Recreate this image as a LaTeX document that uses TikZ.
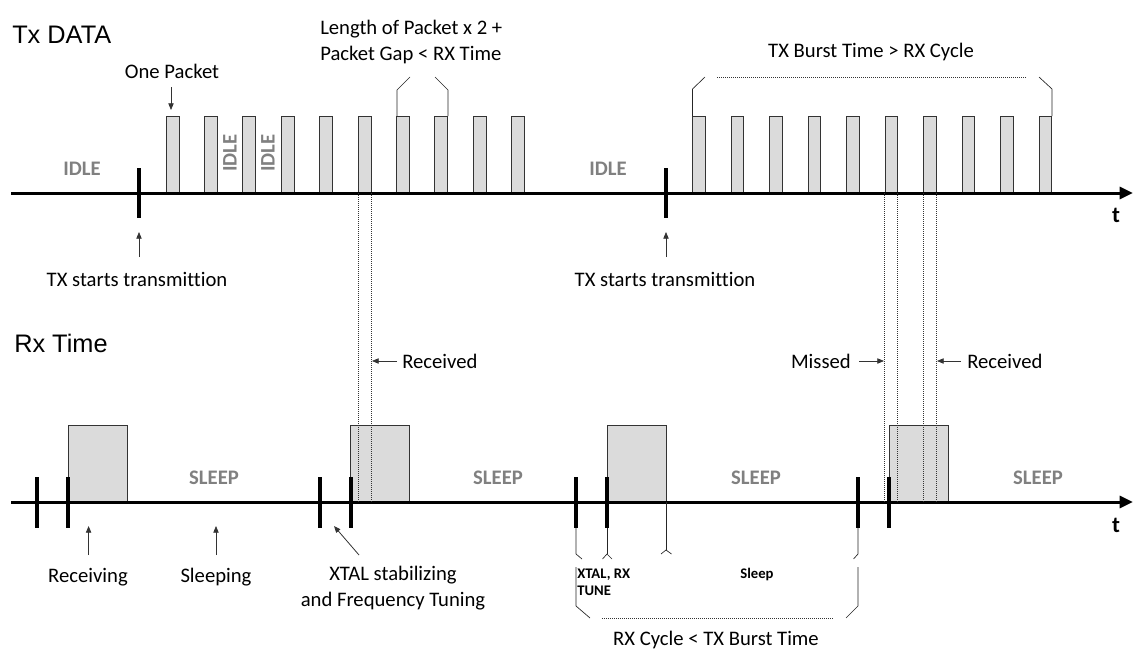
\documentclass[tikz,border=0pt]{standalone}
\usepackage{fontspec}
\setmainfont{Carlito}[Ligatures=NoCommon]
\newfontfamily\arialfont{Liberation Sans}
\usepackage{tikz}
\usetikzlibrary{arrows.meta}
\usepackage{tkz-euclide}

\tikzset{
    lbl/.style={font=\fontsize{15.5}{19.5}\selectfont, inner sep=0pt},
    title/.style={font=\arialfont\fontsize{19}{22}\selectfont, inner sep=0pt, anchor=west},
    state/.style={font=\fontsize{15.5}{19}\selectfont\bfseries, text=black!50, inner sep=0pt},
    small/.style={font=\fontsize{11}{12.75}\selectfont\bfseries, inner sep=0pt},
    axis/.style={line width=2.25pt, -{Triangle[length=10pt,width=9pt]}},
    tickmark/.style={line width=3pt},
    pkt/.style={fill=black!14, draw=black!80, line width=0.6pt},
    ptr/.style={black!80, line width=0.6pt, -{Triangle[length=5pt,width=4pt]}},
    brk/.style={black!85, line width=0.5pt},
    guide/.style={black!80, line width=0.5pt, densely dotted},
}

\begin{document}
\begin{tikzpicture}[x=0.75pt,y=-0.75pt]
                \useasboundingbox (0,0) rectangle (1133,650);
                % packets and rx windows
                \foreach \i in {0,...,9} {
                    \draw[pkt] ({166+38.4*\i},116) rectangle ++(13,77);
                    \draw[pkt] ({692.5+38.5*\i},116) rectangle ++(12.8,77);
                }
                \foreach \x in {68,350.5,607,889.5}
                    \draw[pkt] (\x,425) rectangle ++(59,77);
                % time axes
                \tkzDefPoints{11/193/A, 1133/193/B, 11/502/C, 1133/502/D}
                \draw[axis] (A) -- (B);
                \draw[axis] (C) -- (D);
                \foreach \x in {139,666}
                    \draw[tickmark] (\x,168) -- (\x,218);
                \foreach \x in {37,68,320,351,576,607,858,889}
                    \draw[tickmark] (\x,477) -- (\x,528);
                \foreach \x in {358,371,884.5,897,923,936.5}
                    \draw[guide] (\x,193) -- (\x,502);
                \node[font=\fontsize{17}{20}\selectfont\bfseries] (tA) at (1116,215) {t};
                \node[font=\fontsize{17}{20}\selectfont\bfseries] (tB) at (1116,525) {t};
                % Tx side
                \node[title] (txd) at (12,35) {Tx DATA};
                \node[lbl] (one) at (172,71) {One Packet};
                \tkzDefPoints{171/87/E1, 171/110/E2}
                \draw[ptr] (E1) -- (E2);
                \node[state] (idA) at (82,169) {IDLE};
                \node[state, rotate=90] (idB) at (230,153) {IDLE};
                \node[state, rotate=90] (idC) at (268,153) {IDLE};
                \node[state] (idD) at (608,169) {IDLE};
                \tkzDefPoints{397/116/G1, 397/90/G2, 410/77/G3, 435/77/G4, 448/90/G5, 448/116/G6}
                \draw[brk] (G1) -- (G2) -- (G3);
                \draw[brk] (G4) -- (G5) -- (G6);
                \node[lbl, anchor=west, align=left] (len) at (320,42) {Length of Packet x 2 +\\Packet Gap < RX Time};
                \tkzDefPoints{692.5/116/H1, 692.5/89/H2, 705/77/H3, 717/77/H4, 1026/77/H5, 1039/77/H6, 1052/89/H7, 1052/116/H8}
                \draw[brk] (H1) -- (H2) -- (H3);
                \draw[guide] (H4) -- (H5);
                \draw[brk] (H6) -- (H7) -- (H8);
                \node[lbl] (burst) at (871,52) {TX Burst Time > RX Cycle};
                \tkzDefPoints{139/257/S1, 139/232/S2, 666/257/S3, 666/232/S4}
                \draw[ptr] (S1) -- (S2);
                \draw[ptr] (S3) -- (S4);
                \node[lbl] (stA) at (137,279) {TX starts transmittion};
                \node[lbl] (stB) at (665,279) {TX starts transmittion};
                % Rx side
                \node[title] (rxt) at (14,343) {Rx Time};
                \tkzDefPoints{397/361/R1, 372/361/R2, 859/361/R3, 884/361/R4, 961/361/R5, 937/361/R6}
                \draw[ptr] (R1) -- (R2);
                \draw[ptr] (R3) -- (R4);
                \draw[ptr] (R5) -- (R6);
                \node[lbl, anchor=west] (rcA) at (402,361) {Received};
                \node[lbl, anchor=east] (mis) at (851,361) {Missed};
                \node[lbl, anchor=west] (rcB) at (967,361) {Received};
                \node[state] (slA) at (214,478) {SLEEP};
                \node[state] (slB) at (498,478) {SLEEP};
                \node[state] (slC) at (756,478) {SLEEP};
                \node[state] (slD) at (1038,478) {SLEEP};
                \tkzDefPoints{88.6/555/W1, 88.6/526/W2, 216/555/W3, 216/526/W4, 359/555/W5, 334/526/W6}
                \draw[ptr] (W1) -- (W2);
                \draw[ptr] (W3) -- (W4);
                \draw[ptr] (W5) -- (W6);
                \node[lbl] (recv) at (88,577) {Receiving};
                \node[lbl] (slp) at (216,577) {Sleeping};
                \node[lbl, align=center] (xtal) at (393,588) {XTAL stabilizing\\and Frequency Tuning};
                % rx cycle markers
                \tkzDefPoints{576/528/K1, 576/554/K2, 582/559/K3, 607/528/L1, 607/554/L2, 602.5/559/L3, 612/559/L4}
                \tkzDefPoints{666/502/M1, 666/550/M2, 661/554/M3, 671.5/554/M4, 858/528/N1, 858/554/N2, 853.5/559/N3}
                \draw[brk] (K1) -- (K2) -- (K3);
                \draw[brk] (L1) -- (L2);
                \draw[brk] (L3) -- (L2) -- (L4);
                \draw[brk] (M1) -- (M2);
                \draw[brk] (M3) -- (M2) -- (M4);
                \draw[brk] (N1) -- (N2) -- (N3);
                \tkzDefPoints{576/567/U1, 576/606/U2, 590/618/U3, 602/618/U4, 833/618/U5, 846/618/U6, 858/606/U7, 858/567/U8}
                \draw[brk] (U1) -- (U2) -- (U3);
                \draw[guide] (U4) -- (U5);
                \draw[brk] (U6) -- (U7) -- (U8);
                \node[small, anchor=north west, align=left] (xrx) at (577,569) {XTAL, RX\\TUNE};
                \node[small] (slp2) at (757,575) {Sleep};
                \node[lbl] (cyc) at (716,640) {RX Cycle < TX Burst Time};
            \end{tikzpicture}
\end{document}
